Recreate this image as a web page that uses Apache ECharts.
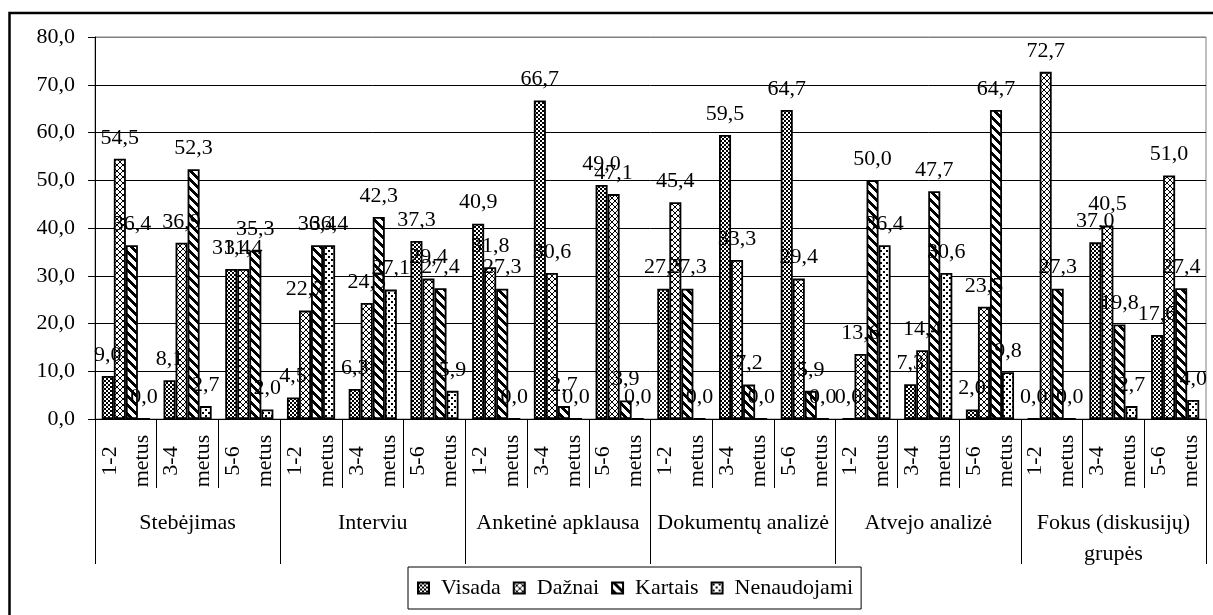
<!DOCTYPE html>
<html>
<head>
<meta charset="utf-8">
<script src="https://cdn.jsdelivr.net/npm/echarts@6/dist/echarts.min.js"></script>
<style>
html,body{margin:0;padding:0;background:#fff;}
#chart{width:1213px;height:615px;}
</style>
</head>
<body>
<div id="chart"></div>
<script>
// ---- data ----
const groups = ['Stebėjimas', 'Interviu', 'Anketinė apklausa', 'Dokumentų analizė', 'Atvejo analizė', 'Fokus (diskusijų)\ngrupės'];
const periods = ['1-2\nmetus', '3-4\nmetus', '5-6\nmetus'];
const seriesNames = ['Visada', 'Dažnai', 'Kartais', 'Nenaudojami'];
const visada      = [9.0, 8.1, 31.4, 4.5, 6.3, 37.3, 40.9, 66.7, 49.0, 27.3, 59.5, 64.7, 0.0, 7.3, 2.0, 0.0, 37.0, 17.6];
const daznai      = [54.5, 36.9, 31.4, 22.7, 24.3, 29.4, 31.8, 30.6, 47.1, 45.4, 33.3, 29.4, 13.6, 14.4, 23.5, 72.7, 40.5, 51.0];
const kartais     = [36.4, 52.3, 35.3, 36.4, 42.3, 27.4, 27.3, 2.7, 3.9, 27.3, 7.2, 5.9, 50.0, 47.7, 64.7, 27.3, 19.8, 27.4];
const nenaudojami = [0.0, 2.7, 2.0, 36.4, 27.1, 5.9, 0.0, 0.0, 0.0, 0.0, 0.0, 0.0, 36.4, 30.6, 9.8, 0.0, 2.7, 4.0];
const yTicks = [0, 10, 20, 30, 40, 50, 60, 70, 80];

// categories built from groups x periods
const categories = [];
groups.forEach(() => periods.forEach(p => categories.push(p)));

const FONT = '"Liberation Serif", "Times New Roman", serif';
const FS = 22;
const fmt = v => Number(v).toFixed(1).replace('.', ',');

function makePattern(size, draw) {
  const c = document.createElement('canvas');
  c.width = size; c.height = size;
  const ctx = c.getContext('2d');
  ctx.fillStyle = '#fff';
  ctx.fillRect(0, 0, size, size);
  ctx.fillStyle = '#000';
  draw(ctx, size);
  return { image: c, repeat: 'repeat' };
}
const patterns = [
  // Visada: checkerboard
  makePattern(4, ctx => { ctx.fillRect(0, 0, 2, 2); ctx.fillRect(2, 2, 2, 2); }),
  // Dažnai: diagonal crosshatch
  makePattern(6, (ctx, s) => { for (let i = 0; i < s; i++) { ctx.fillRect(i, i, 1, 1); ctx.fillRect(i, s - 1 - i, 1, 1); } }),
  // Kartais: wide downward diagonal
  makePattern(9, (ctx, s) => { for (let y = 0; y < s; y++) for (let x = 0; x < s; x++) { if (((x - y) % s + s) % s < 4) ctx.fillRect(x, y, 1, 1); } }),
  // Nenaudojami: dotted
  makePattern(6, ctx => { ctx.fillRect(1, 1, 2, 2); ctx.fillRect(4, 4, 2, 2); })
];

const values = [visada, daznai, kartais, nenaudojami];

const chart = echarts.init(document.getElementById('chart'), null, { renderer: 'canvas' });

const series = seriesNames.map((name, i) => ({
  name: name,
  type: 'bar',
  data: values[i],
  barGap: '0%',
  barCategoryGap: '22%',
  itemStyle: { color: patterns[i], borderColor: '#000', borderWidth: 1.8 },
  label: {
    show: true, position: 'top', distance: 10,
    formatter: p => fmt(p.value),
    color: '#000', fontFamily: FONT, fontSize: FS
  },
  emphasis: { disabled: true },
  animation: false
}));

chart.setOption({
  backgroundColor: '#fff',
  animation: false,
  textStyle: { fontFamily: FONT, color: '#000' },
  graphic: [{
    type: 'rect', z: -10, silent: true,
    shape: { x: 9.5, y: 13, width: 1240, height: 640 },
    style: { fill: 'none', stroke: '#000', lineWidth: 2.5 }
  }],
  grid: {
    left: 95, right: 7, top: 37, bottom: 196,
    show: true, borderColor: '#808080', borderWidth: 1,
    containLabel: false, outerBoundsMode: 'none'
  },
  legend: {
    data: seriesNames,
    left: 408, top: 567,
    orient: 'horizontal',
    padding: [10, 8, 10, 9],
    itemWidth: 11, itemHeight: 11, itemGap: 12,
    icon: 'rect',
    borderColor: '#000', borderWidth: 1, backgroundColor: '#fff',
    textStyle: { fontFamily: FONT, fontSize: FS, color: '#000', padding: [0, 0, 0, 7] },
    selectedMode: false
  },
  xAxis: [{
    type: 'category',
    data: categories,
    position: 'bottom',
    axisLine: { show: true, lineStyle: { color: '#000', width: 1 } },
    axisTick: { show: true, interval: 0, length: 69, alignWithLabel: false, lineStyle: { color: '#000' } },
    axisLabel: {
      interval: 0, rotate: 90, align: 'center', verticalAlign: 'middle',
      margin: 42, lineHeight: 32,
      fontFamily: FONT, fontSize: FS, color: '#000'
    },
    splitLine: { show: false }
  }, {
    type: 'category',
    data: groups,
    position: 'bottom',
    axisLine: { show: false },
    axisTick: { show: true, interval: 0, length: 145, alignWithLabel: false, lineStyle: { color: '#000' } },
    axisLabel: {
      interval: 0, margin: 89, lineHeight: 31,
      fontFamily: FONT, fontSize: FS, color: '#000'
    },
    splitLine: { show: false }
  }],
  yAxis: {
    type: 'value',
    min: yTicks[0], max: yTicks[yTicks.length - 1], interval: 10,
    axisLine: { show: true, lineStyle: { color: '#000', width: 1 } },
    axisTick: { show: true, length: 7, lineStyle: { color: '#000' } },
    axisLabel: { formatter: v => fmt(v), margin: 20, fontFamily: FONT, fontSize: FS, color: '#000' },
    splitLine: { show: true, lineStyle: { color: ['#000', '#000', '#000', '#000', '#000', '#000', '#000', '#000', '#808080'], width: 1 } }
  },
  series: series
});
</script>
</body>
</html>
